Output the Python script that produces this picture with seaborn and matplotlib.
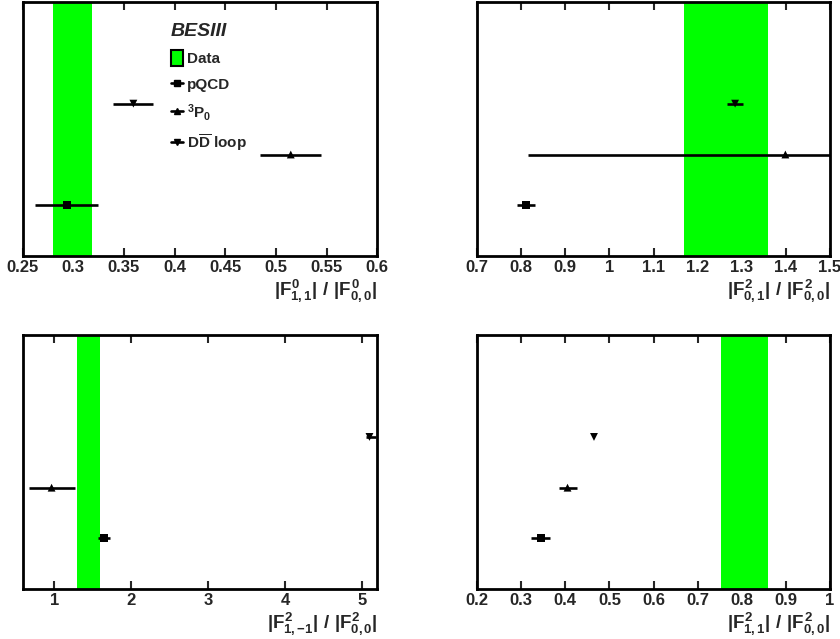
import matplotlib
matplotlib.use('Agg')
import matplotlib.pyplot as plt
import pandas as pd
import seaborn as sns
from matplotlib.patches import Patch
from matplotlib.lines import Line2D

# data: one entry per panel
models = ['pQCD', '3P0', 'DDloop']
model_y = [1, 2, 3]

x_labels = [r'$|F^{0}_{1,1}|\ /\ |F^{0}_{0,0}|$',
            r'$|F^{2}_{0,1}|\ /\ |F^{2}_{0,0}|$',
            r'$|F^{2}_{1,{-}1}|\ /\ |F^{2}_{0,0}|$',
            r'$|F^{2}_{1,1}|\ /\ |F^{2}_{0,0}|$']
x_limits = [(0.25, 0.6), (0.7, 1.5), (0.59, 5.2), (0.2, 1.0)]
x_ticks = [[0.25, 0.3, 0.35, 0.4, 0.45, 0.5, 0.55, 0.6],
           [0.7, 0.8, 0.9, 1.0, 1.1, 1.2, 1.3, 1.4, 1.5],
           [1, 2, 3, 4, 5],
           [0.2, 0.3, 0.4, 0.5, 0.6, 0.7, 0.8, 0.9, 1.0]]

# measured band (data)
band_lo = [0.280, 1.169, 1.30, 0.754]
band_hi = [0.318, 1.360, 1.597, 0.860]

# predictions: centre, low, high  (order pQCD, 3P0, DD loop)
pred_val = [[0.2935, 0.5147, 0.3593],
            [0.810, 1.399, 1.285],
            [1.65, 0.966, 5.10],
            [0.344, 0.405, 0.465]]
pred_lo = [[0.262, 0.4845, 0.3395],
           [0.790, 0.816, 1.266],
           [1.567, 0.674, 5.05],
           [0.322, 0.385, 0.465]]
pred_hi = [[0.3247, 0.5444, 0.379],
           [0.831, 1.60, 1.304],
           [1.728, 1.27, 5.19],
           [0.366, 0.4255, 0.465]]

sns.set_style('white')
plt.rcParams['font.family'] = ['Liberation Sans', 'DejaVu Sans']
plt.rcParams['font.weight'] = 'bold'
plt.rcParams['mathtext.fontset'] = 'custom'
plt.rcParams['mathtext.rm'] = 'Liberation Sans:bold'
plt.rcParams['mathtext.it'] = 'Liberation Sans:bold'
plt.rcParams['mathtext.bf'] = 'Liberation Sans:bold'

green = '#00ff00'
marker_map = {'pQCD': 's', '3P0': '^', 'DDloop': 'v'}

fig = plt.figure(figsize=(8.4, 6.39), dpi=100)
boxes = [[0.027, 0.599, 0.422, 0.398],
         [0.568, 0.599, 0.420, 0.398],
         [0.027, 0.078, 0.422, 0.397],
         [0.568, 0.078, 0.420, 0.397]]

for i in range(4):
    ax = fig.add_axes(boxes[i])
    ax.axvspan(band_lo[i], band_hi[i], color=green, lw=0, zorder=1)
    ax.hlines(model_y, pred_lo[i], pred_hi[i], color='black', lw=1.9, zorder=3)
    df = pd.DataFrame({'x': pred_val[i], 'y': model_y, 'model': models})
    sns.scatterplot(data=df, x='x', y='y', style='model', markers=marker_map,
                    color='black', s=32, edgecolor='black', linewidth=0,
                    legend=False, ax=ax, zorder=4)
    ax.set_xlim(*x_limits[i])
    ax.set_ylim(0, 5)
    ax.set_xticks(x_ticks[i])
    ax.set_xticklabels(['%g' % t for t in x_ticks[i]])
    ax.set_yticks([])
    ax.set_ylabel('')
    ax.set_xlabel(x_labels[i], loc='right', fontsize=13.5, labelpad=1)
    ax.tick_params(axis='x', direction='in', top=True, bottom=True,
                   length=6, width=1.5, labelsize=12, pad=3)
    for sp in ax.spines.values():
        sp.set_linewidth(2)
        sp.set_color('black')
    ax.set_zorder(2)

    if i == 0:
        handles = [Patch(facecolor=green, edgecolor='black', linewidth=1.5),
                   Line2D([], [], color='black', lw=1.9, marker='s', markersize=5),
                   Line2D([], [], color='black', lw=1.9, marker='^', markersize=5),
                   Line2D([], [], color='black', lw=1.9, marker='v', markersize=5)]
        names = ['Data', 'pQCD', r'$^{3}$P$_{0}$', r'D$\overline{\rm D}$ loop']
        leg = ax.legend(handles, names, loc='upper left', bbox_to_anchor=(0.4, 0.94),
                        frameon=False, fontsize=11, handlelength=0.8,
                        handleheight=1.3, handletextpad=0.25, labelspacing=0.62,
                        borderaxespad=0, title='BESIII',
                        title_fontproperties={'weight': 'bold', 'style': 'italic', 'size': 14})
        leg._legend_box.align = 'left'

fig.savefig('out.png', dpi=100)
